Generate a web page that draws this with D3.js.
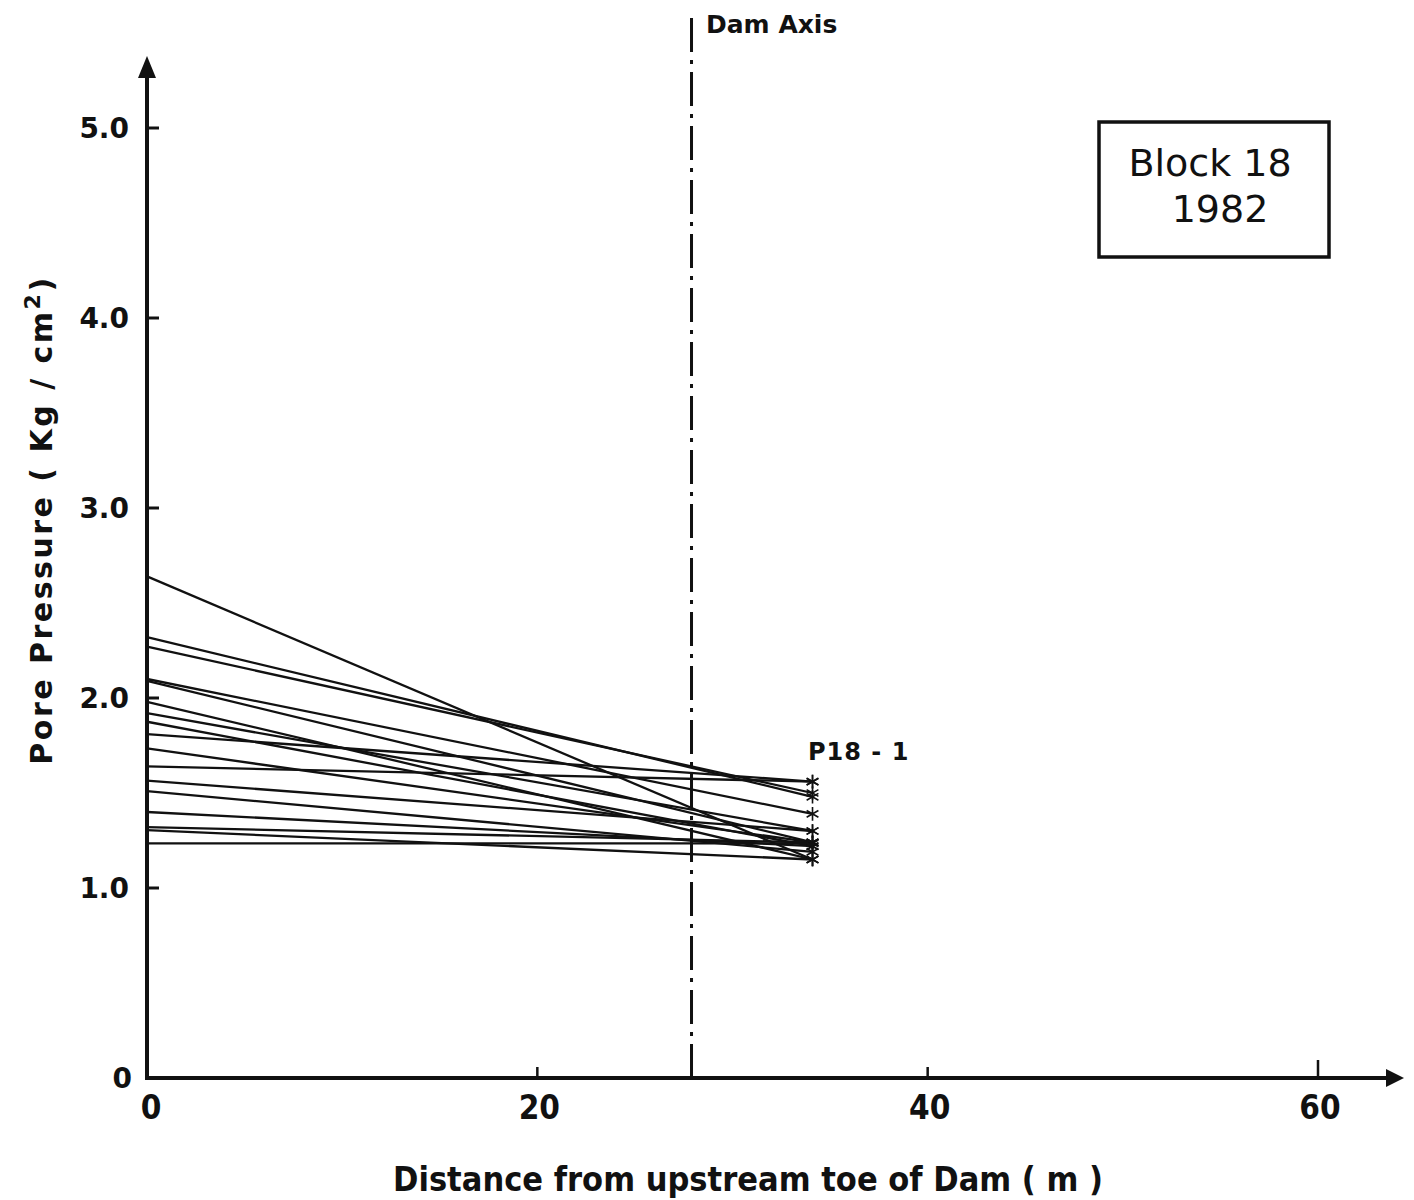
<!DOCTYPE html>
<html>
<head>
<meta charset="utf-8">
<script src="https://cdn.jsdelivr.net/npm/d3@7"></script>
<style>
  html, body { margin: 0; padding: 0; background: #fff; }
  svg { display: block; }
  .lbl { font-family: "DejaVu Sans", sans-serif; font-weight: bold; fill: #111; }
  .cond { font-family: "DejaVu Sans", sans-serif; font-stretch: condensed; font-weight: bold; fill: #111; }
</style>
</head>
<body>
<script>
// Pore pressure profiles, Block 18, 1982: each reading runs from the upstream toe
// (0 m) to piezometer P18-1.
const startPressure = [2.64, 2.32, 2.27, 2.10, 2.09, 1.98, 1.92, 1.875, 1.81, 1.735, 1.64, 1.565, 1.51, 1.40, 1.32, 1.305, 1.235];
const endPressure   = [1.15, 1.48, 1.50, 1.39, 1.24, 1.15, 1.30, 1.22, 1.56, 1.24, 1.56, 1.30, 1.19, 1.22, 1.24, 1.15, 1.235];
const toeDistance = 0;
const gaugeDistance = 34.1;
const damAxisDistance = 27.9;
const xTicks = [0, 20, 40, 60];
const yTicks = [0, 1, 2, 3, 4, 5];
const yTickLabels = ["0", "1.0", "2.0", "3.0", "4.0", "5.0"];

const W = 1414, H = 1200;
const svg = d3.select("body").append("svg").attr("width", W).attr("height", H);

const x = d3.scaleLinear().domain([0, 60]).range([147, 1318]);
const y = d3.scaleLinear().domain([0, 5]).range([1078, 128]);

const ink = "#111";

// Axes with arrowheads
svg.append("line").attr("x1", x(0)).attr("x2", 1392).attr("y1", y(0)).attr("y2", y(0))
  .attr("stroke", ink).attr("stroke-width", 4);
svg.append("line").attr("x1", x(0)).attr("x2", x(0)).attr("y1", y(0) + 2).attr("y2", 72)
  .attr("stroke", ink).attr("stroke-width", 4);
svg.append("path").attr("d", `M${1404},${y(0)} L${1386},${y(0) - 9} L${1386},${y(0) + 9} Z`).attr("fill", ink);
svg.append("path").attr("d", `M${x(0)},56 L${x(0) - 9},78 L${x(0) + 9},78 Z`).attr("fill", ink);

// Y ticks (pointing into the plot)
svg.selectAll(".ytick").data(yTicks.filter(d => d > 0)).enter().append("line")
  .attr("x1", x(0)).attr("x2", x(0) + 12)
  .attr("y1", d => y(d)).attr("y2", d => y(d))
  .attr("stroke", ink).attr("stroke-width", 3);
svg.selectAll(".ylab").data(yTicks).enter().append("text")
  .attr("class", "lbl")
  .attr("x", d => d === 0 ? 132 : 129)
  .attr("y", d => y(d) + 10)
  .attr("text-anchor", "end")
  .attr("font-size", 28)
  .text((d, i) => yTickLabels[i]);

// X ticks (pointing up)
svg.selectAll(".xtick").data(xTicks.filter(d => d > 0)).enter().append("line")
  .attr("x1", d => x(d)).attr("x2", d => x(d))
  .attr("y1", y(0)).attr("y2", d => y(0) - (d === 60 ? 18 : 11))
  .attr("stroke", ink).attr("stroke-width", 2.5);
svg.selectAll(".xlab").data(xTicks).enter().append("text")
  .attr("class", "cond")
  .attr("x", d => x(d) + (d === 0 ? 4 : 2))
  .attr("y", 1119)
  .attr("text-anchor", "middle")
  .attr("font-size", 33)
  .text(d => d);

// Axis titles
svg.append("text").attr("class", "cond")
  .attr("x", 748).attr("y", 1191)
  .attr("text-anchor", "middle").attr("font-size", 34)
  .attr("textLength", 710).attr("lengthAdjust", "spacingAndGlyphs")
  .text("Distance from upstream toe of Dam ( m )");

const yt = svg.append("text").attr("class", "lbl")
  .attr("transform", "translate(52,520) rotate(-90)")
  .attr("text-anchor", "middle").attr("font-size", 30)
  .attr("letter-spacing", 2.5);
yt.append("tspan").text("Pore  Pressure  ( Kg / cm");
yt.append("tspan").attr("dy", -12).attr("font-size", 22).text("2");
yt.append("tspan").attr("dy", 12).text(")");

// Dam axis (dash-dot)
svg.append("line")
  .attr("x1", x(damAxisDistance)).attr("x2", x(damAxisDistance))
  .attr("y1", 18).attr("y2", y(0))
  .attr("stroke", ink).attr("stroke-width", 3)
  .attr("stroke-dasharray", "34,8,4,8");
svg.append("text").attr("class", "lbl")
  .attr("x", 706).attr("y", 33).attr("font-size", 25)
  .text("Dam Axis");

// Block label box
svg.append("rect").attr("x", 1099).attr("y", 122).attr("width", 230).attr("height", 135)
  .attr("fill", "none").attr("stroke", ink).attr("stroke-width", 3.5);
svg.append("text").attr("x", 1210).attr("y", 176)
  .attr("text-anchor", "middle").attr("font-family", "'DejaVu Sans', sans-serif")
  .attr("font-size", 38).attr("fill", ink).text("Block 18");
svg.append("text").attr("x", 1220).attr("y", 222)
  .attr("text-anchor", "middle").attr("font-family", "'DejaVu Sans', sans-serif")
  .attr("font-size", 38).attr("fill", ink).text("1982");

// Pressure profiles
const profiles = startPressure.map((s, i) => [
  { d: toeDistance, p: s },
  { d: gaugeDistance, p: endPressure[i] }
]);
const line = d3.line().x(v => x(v.d)).y(v => y(v.p));
svg.append("g").selectAll("path").data(profiles).enter().append("path")
  .attr("d", line)
  .attr("fill", "none").attr("stroke", ink).attr("stroke-width", 2.3);

// Readings at P18-1
const sym = d3.symbol().type(d3.symbolAsterisk).size(130);
svg.append("g").selectAll("path").data(endPressure).enter().append("path")
  .attr("d", sym)
  .attr("transform", d => `translate(${x(gaugeDistance)},${y(d)})`)
  .attr("fill", "none").attr("stroke", ink).attr("stroke-width", 1.6);

svg.append("text").attr("class", "lbl")
  .attr("x", 808).attr("y", 760).attr("font-size", 24)
  .attr("letter-spacing", 1)
  .text("P18 - 1");
</script>
</body>
</html>
